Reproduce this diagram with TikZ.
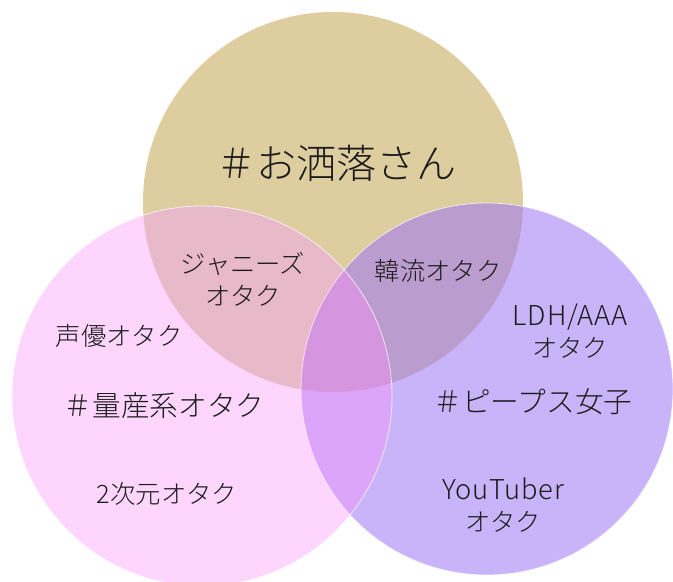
\documentclass[tikz,border=0pt]{standalone}
\usepackage{fontspec}
\newfontfamily\jp{Noto Sans CJK JP Light}
\newfontfamily\jplat[LetterSpace=3]{Noto Sans CJK JP Light}
\definecolor{cT}{HTML}{DDCD9F}
\definecolor{cL}{HTML}{FDD5FD}
\definecolor{cR}{HTML}{C9B4FA}
\definecolor{cTL}{HTML}{E8B9C8}
\definecolor{cTR}{HTML}{BB9CCE}
\definecolor{cLR}{HTML}{DCA5F9}
\definecolor{cC}{HTML}{D696DF}
\definecolor{ink}{HTML}{1C1C1C}
\tikzset{
  lbl/.style={text=ink, font=\jp\fontsize{19pt}{24pt}\selectfont, align=center, inner sep=0pt},
  biglbl/.style={text=ink, font=\jp\fontsize{21.5pt}{26pt}\selectfont, align=center, inner sep=0pt},
  titlelbl/.style={text=ink, font=\jp\fontsize{30pt}{36pt}\selectfont, align=center, inner sep=0pt},
  edge/.style={draw=white, draw opacity=0.7, line width=0.6pt}
}
\newcommand{\latn}[1]{{\jplat\fontsize{20.5pt}{24pt}\selectfont #1}}
\begin{document}
\begin{tikzpicture}[x=0.75pt,y=-0.75pt]
\useasboundingbox (0,0) rectangle (673,581);
\coordinate (T) at (333,202);
\coordinate (L) at (202,396);
\coordinate (R) at (487,389);
\def\rT{142.5pt}\def\rL{142.5pt}\def\rR{139.5pt}
\begin{scope}
\clip (0,0) rectangle (673,581);
\fill[cT] (T) circle[radius=\rT];
\fill[cL] (L) circle[radius=\rL];
\fill[cR] (R) circle[radius=\rR];
\begin{scope}\clip (T) circle[radius=\rT]; \fill[cTL] (L) circle[radius=\rL];\end{scope}
\begin{scope}\clip (T) circle[radius=\rT]; \fill[cTR] (R) circle[radius=\rR];\end{scope}
\begin{scope}\clip (L) circle[radius=\rL]; \fill[cLR] (R) circle[radius=\rR];\end{scope}
\begin{scope}\clip (T) circle[radius=\rT]; \clip (L) circle[radius=\rL]; \fill[cC] (R) circle[radius=\rR];\end{scope}
\draw[edge] (L) circle[radius=\rL];
\draw[edge] (R) circle[radius=\rR];
\end{scope}
\node[titlelbl] (title) at (336,163) {＃お洒落さん};
\node[lbl] (johnny) at (243,279) {ジャニーズ\\オタク};
\node[lbl] (kanryu) at (438,271) {韓流オタク};
\node[lbl] (ldh) at (570,331) {\latn{LDH/AAA}\\オタク};
\node[lbl] (seiyu) at (119,336) {声優オタク};
\node[biglbl] (ryosan) at (164,406) {＃量産系オタク};
\node[biglbl] (peeps) at (533,402) {＃ピープス女子};
\node[lbl] (nijigen) at (167,494) {2次元オタク};
\node[lbl] (youtuber) at (503,505) {\latn{YouTuber}\\オタク};
\end{tikzpicture}
\end{document}
